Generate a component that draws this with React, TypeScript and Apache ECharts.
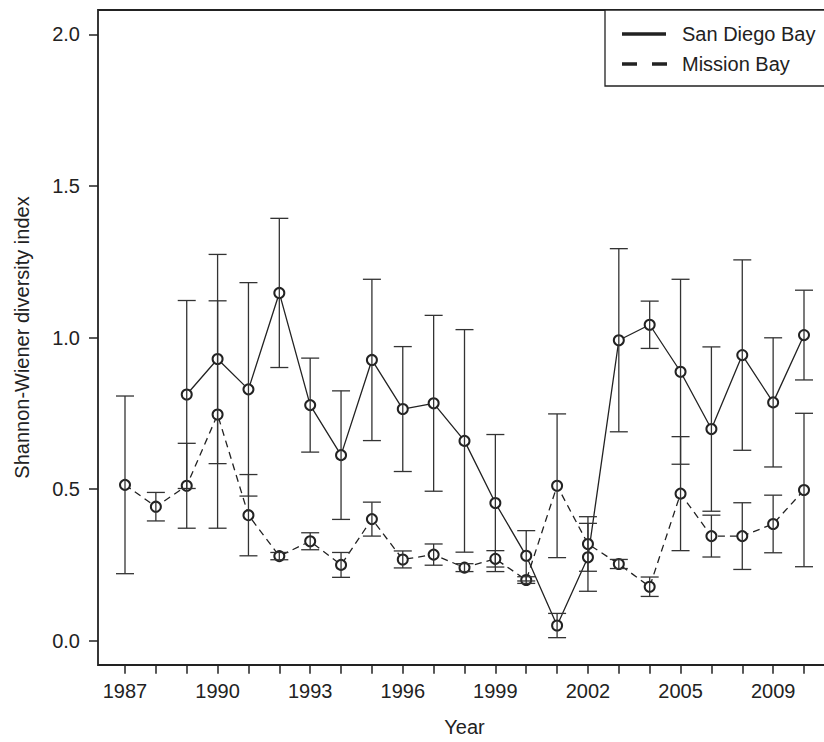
import React, { useEffect, useRef } from "react";
import * as echarts from "echarts";

const years = [
  "1987", "1988", "1989", "1990", "1991", "1992", "1993", "1994", "1995", "1996",
  "1997", "1998", "1999", "2000", "2001", "2002", "2003", "2004", "2005", "2006",
  "2008", "2009", "2010",
];

// San Diego Bay: mean and half-width of error bar
const sdMean = [
  null, null, 0.812, 0.929, 0.829, 1.147, 0.777, 0.612, 0.926, 0.764,
  0.783, 0.659, 0.454, 0.28, 0.05, 0.275, 0.991, 1.042, 0.887, 0.698,
  0.942, 0.786, 1.008,
];
const sdErr = [
  null, null, 0.31, 0.345, 0.352, 0.246, 0.155, 0.212, 0.266, 0.206,
  0.29, 0.367, 0.226, 0.083, 0.04, 0.112, 0.302, 0.078, 0.305, 0.271,
  0.314, 0.213, 0.148,
];

// Mission Bay
const mbMean = [
  0.514, 0.442, 0.511, 0.746, 0.414, 0.279, 0.328, 0.25, 0.401, 0.268,
  0.284, 0.241, 0.27, 0.2, 0.511, 0.319, 0.253, 0.178, 0.485, 0.345,
  0.345, 0.385, 0.497,
];
const mbErr = [
  0.293, 0.047, 0.14, 0.375, 0.134, 0.012, 0.028, 0.041, 0.056, 0.028,
  0.035, 0.013, 0.027, 0.011, 0.237, 0.09, 0.015, 0.032, 0.188, 0.069,
  0.11, 0.095, 0.253,
];

const seriesNames = ["San Diego Bay", "Mission Bay"];
const yTickStep = 0.5;

const FONT = "Liberation Sans, Arial, sans-serif";
const INK = "#222";

function errData(mean: (number | null)[], err: (number | null)[]) {
  const out: number[][] = [];
  mean.forEach((m, i) => {
    const e = err[i];
    if (m != null && e != null) out.push([i, m - e, m + e]);
  });
  return out;
}

function errorRender(params: any, api: any) {
  const i = api.value(0);
  const lo = api.coord([i, api.value(1)]);
  const hi = api.coord([i, api.value(2)]);
  const hw = 9;
  const style = { stroke: "#333", lineWidth: 1.3 };
  return {
    type: "group",
    children: [
      { type: "line", shape: { x1: lo[0], y1: lo[1], x2: hi[0], y2: hi[1] }, style },
      { type: "line", shape: { x1: lo[0] - hw, y1: lo[1], x2: lo[0] + hw, y2: lo[1] }, style },
      { type: "line", shape: { x1: hi[0] - hw, y1: hi[1], x2: hi[0] + hw, y2: hi[1] }, style },
    ],
  };
}

export default function App() {
  const ref = useRef<HTMLDivElement>(null);
  useEffect(() => {
    if (!ref.current) return;
    const chart = echarts.init(ref.current, null, { renderer: "svg" });
    chart.setOption({
      animation: false,
      backgroundColor: "#fff",
      textStyle: { fontFamily: FONT },
      grid: { left: 125, right: 20, top: 34.3, bottom: 101.3 },
      xAxis: {
        type: "category",
        data: years,
        boundaryGap: false,
        offset: 24,
        axisLine: { show: false, onZero: false },
        axisTick: { show: true, interval: 0, length: 9, lineStyle: { color: INK, width: 1.5 } },
        axisLabel: { interval: 2, margin: 16, fontSize: 20, color: INK, fontFamily: FONT },
        splitLine: { show: false },
        name: "Year",
        nameLocation: "middle",
        nameGap: 52,
        nameTextStyle: { fontSize: 20, color: INK, fontFamily: FONT },
      },
      yAxis: {
        type: "value",
        min: 0,
        max: 2,
        interval: yTickStep,
        offset: 27,
        axisLine: { show: false, onZero: false },
        axisTick: { show: true, length: 9, lineStyle: { color: INK, width: 1.5 } },
        axisLabel: {
          margin: 18,
          fontSize: 20,
          color: INK,
          fontFamily: FONT,
          formatter: (v: number) => v.toFixed(1),
        },
        splitLine: { show: false },
        name: "Shannon-Wiener diversity index",
        nameLocation: "middle",
        nameGap: 66,
        nameRotate: 90,
        nameTextStyle: { fontSize: 20, color: INK, fontFamily: FONT },
      },
      series: [
        {
          name: seriesNames[0],
          type: "line",
          data: sdMean,
          symbol: "emptyCircle",
          symbolSize: 10,
          showSymbol: true,
          showAllSymbol: true,
          connectNulls: false,
          lineStyle: { color: INK, width: 1.3, type: "solid" },
          itemStyle: { color: INK, borderColor: INK, borderWidth: 1.2 },
          z: 2,
        },
        {
          name: seriesNames[1],
          type: "line",
          data: mbMean,
          symbol: "emptyCircle",
          symbolSize: 10,
          showSymbol: true,
          showAllSymbol: true,
          lineStyle: { color: INK, width: 1.3, type: [7, 5] },
          itemStyle: { color: INK, borderColor: INK, borderWidth: 1.2 },
          z: 2,
        },
        {
          name: seriesNames[0] + " error",
          type: "custom",
          data: errData(sdMean, sdErr),
          encode: { x: 0, y: [1, 2] },
          renderItem: errorRender,
          z: 3,
        },
        {
          name: seriesNames[1] + " error",
          type: "custom",
          data: errData(mbMean, mbErr),
          encode: { x: 0, y: [1, 2] },
          renderItem: errorRender,
          z: 3,
        },
      ],
      graphic: [
        {
          type: "rect",
          shape: { x: 98, y: 10, width: 733, height: 655 },
          style: { fill: "none", stroke: INK, lineWidth: 1.8 },
          z: 10,
        },
        {
          type: "rect",
          shape: { x: 605, y: 10, width: 226, height: 76 },
          style: { fill: "#fff", stroke: INK, lineWidth: 1.3 },
          z: 10,
        },
        {
          type: "line",
          shape: { x1: 622, y1: 34, x2: 666, y2: 34 },
          style: { stroke: INK, lineWidth: 3.5 },
          z: 11,
        },
        {
          type: "line",
          shape: { x1: 622, y1: 64, x2: 667, y2: 64 },
          style: { stroke: INK, lineWidth: 3.5, lineDash: [15, 15] },
          z: 11,
        },
        {
          type: "text",
          x: 682,
          y: 34,
          style: { text: seriesNames[0], fontSize: 20, fontFamily: FONT, fill: INK, verticalAlign: "middle" },
          z: 11,
        },
        {
          type: "text",
          x: 682,
          y: 64,
          style: { text: seriesNames[1], fontSize: 20, fontFamily: FONT, fill: INK, verticalAlign: "middle" },
          z: 11,
        },
      ],
    });
    return () => chart.dispose();
  }, []);
  return (
    <div
      ref={ref}
      style={{ position: "absolute", left: 0, top: 0, width: 824, height: 742, background: "#fff" }}
    />
  );
}
